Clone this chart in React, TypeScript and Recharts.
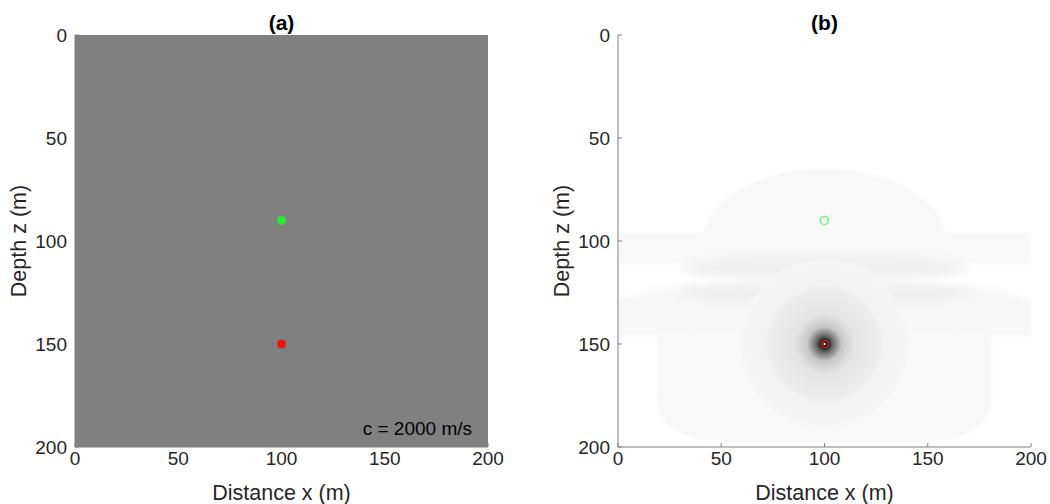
import React from "react";
import {
  ScatterChart,
  Scatter,
  XAxis,
  YAxis,
  ReferenceArea,
  Label,
} from "recharts";

// axis ticks (m)
const xTicks = [0, 50, 100, 150, 200];
const zTicks = [0, 50, 100, 150, 200];

// receiver and source positions (m)
const receiver = [{ x: 100, z: 90 }];
const source = [{ x: 100, z: 150 }];

// homogeneous velocity model (m/s)
const modelVelocity = 2000;

// faint structures of the sensitivity kernel, extents in metres
const kernelPatches = [
  { form: "rect", x1: 0, x2: 200, z1: 96, z2: 111 },
  { form: "dome", x1: 41, x2: 159, z1: 65, z2: 100 },
  { form: "ellipse", x1: 30, x2: 170, z1: 106, z2: 120 },
  { form: "rect", x1: 0, x2: 200, z1: 128, z2: 146 },
  { form: "ellipse", x1: 4, x2: 196, z1: 119, z2: 140 },
  { form: "ellipse", x1: 28, x2: 172, z1: 120, z2: 131 },
  { form: "bowl", x1: 19, x2: 181, z1: 144, z2: 198 },
];
const kernelTones = [
  "#f8f8f8",
  "#f8f8f8",
  "#f0f0f0",
  "#f7f7f7",
  "#f7f7f7",
  "#eeeeee",
  "#f8f8f8",
];

// halo around the source: radius (m) and grey ramp
const haloRadius = 42;
const haloStops = [
  { at: 0, c: "#000000", o: 1 },
  { at: 0.04, c: "#1c1c1c", o: 1 },
  { at: 0.1, c: "#6e6e6e", o: 1 },
  { at: 0.2, c: "#c8c8c8", o: 1 },
  { at: 0.34, c: "#e3e3e3", o: 1 },
  { at: 0.64, c: "#ededed", o: 1 },
  { at: 0.67, c: "#f2f2f2", o: 1 },
  { at: 0.94, c: "#f5f5f5", o: 1 },
  { at: 1, c: "#f7f7f7", o: 0 },
];

const FONT = '"Liberation Sans", Arial, Helvetica, sans-serif';
const TEXT = "#262626";
const AXIS = "#808080";
const PLOT_TOP = 35;
const PLOT_BOTTOM = 447;
const PLOT_LEFT = 75;

const XTick = (props: any) => {
  const { x, payload } = props;
  return (
    <g>
      <line x1={x} x2={x} y1={PLOT_BOTTOM} y2={PLOT_BOTTOM - 4} stroke={AXIS} />
      <text
        x={x}
        y={PLOT_BOTTOM + 18}
        textAnchor="middle"
        fill={TEXT}
        fontSize={19}
        fontFamily={FONT}
      >
        {payload.value}
      </text>
    </g>
  );
};

const YTick = (props: any) => {
  const { y, payload } = props;
  return (
    <g>
      <line x1={PLOT_LEFT} x2={PLOT_LEFT + 4} y1={y} y2={y} stroke={AXIS} />
      <text
        x={PLOT_LEFT - 8}
        y={y}
        dy="0.36em"
        textAnchor="end"
        fill={TEXT}
        fontSize={19}
        fontFamily={FONT}
      >
        {payload.value}
      </text>
    </g>
  );
};

const patchShape = (form: string, tone: string) => (p: any) => {
  const { x, y, width: w, height: h } = p;
  if (form === "ellipse") {
    return (
      <ellipse
        cx={x + w / 2}
        cy={y + h / 2}
        rx={w / 2}
        ry={h / 2}
        fill={tone}
        filter="url(#soft)"
      />
    );
  }
  if (form === "dome") {
    const d = `M${x},${y + h} A${w / 2},${h} 0 0 1 ${x + w},${y + h} Z`;
    return <path d={d} fill={tone} filter="url(#edge)" />;
  }
  if (form === "bowl") {
    const d = `M${x},${y} L${x + w},${y} L${x + w},${y + h * 0.6} Q${x + w},${y + h} ${x + w * 0.75},${y + h} L${x + w * 0.25},${y + h} Q${x},${y + h} ${x},${y + h * 0.6} Z`;
    return <path d={d} fill={tone} filter="url(#edge)" />;
  }
  return <rect x={x} y={y} width={w} height={h} fill={tone} filter="url(#edge)" />;
};

const haloShape = (p: any) => {
  const { x, y, width: w, height: h } = p;
  return (
    <g>
      <defs>
        <radialGradient id="halo">
          {haloStops.map((s) => (
            <stop key={s.at} offset={s.at} stopColor={s.c} stopOpacity={s.o} />
          ))}
        </radialGradient>
      </defs>
      <ellipse cx={x + w / 2} cy={y + h / 2} rx={w / 2} ry={h / 2} fill="url(#halo)" />
    </g>
  );
};

const FilterDefs = () => (
  <defs>
    <filter id="soft" x="-20%" y="-80%" width="140%" height="260%">
      <feGaussianBlur stdDeviation="5" />
    </filter>
    <filter id="edge" x="-5%" y="-10%" width="110%" height="120%">
      <feGaussianBlur stdDeviation="1.5" />
    </filter>
  </defs>
);

const dot = (fill: string) => (p: any) => (
  <circle cx={p.cx} cy={p.cy} r={4.5} fill={fill} />
);

const ring = (p: any) => (
  <circle cx={p.cx} cy={p.cy} r={4} fill="none" stroke="#5dfb5d" strokeWidth={1.3} />
);

const sourceMark = (p: any) => (
  <g>
    <circle cx={p.cx} cy={p.cy} r={3.3} fill="none" stroke="#e01515" strokeWidth={1.4} />
    <circle cx={p.cx} cy={p.cy} r={1.2} fill="#ffffff" />
  </g>
);

function Panel({
  title,
  left,
  width,
  children,
}: {
  title: string;
  left: number;
  width: number;
  children: React.ReactNode;
}) {
  return (
    <div style={{ position: "absolute", left, top: 0, width, height: 504 }}>
      <div
        style={{
          position: "absolute",
          left: 75,
          width: 413,
          top: 11,
          textAlign: "center",
          fontFamily: FONT,
          fontWeight: "bold",
          fontSize: 21,
          lineHeight: "24px",
          color: "#000",
        }}
      >
        {title}
      </div>
      <ScatterChart
        width={width}
        height={504}
        margin={{ top: PLOT_TOP, right: width - 75 - 413, left: 0, bottom: 0 }}
      >
        <FilterDefs />
        <XAxis
          type="number"
          dataKey="x"
          domain={[0, 200]}
          ticks={xTicks}
          allowDataOverflow
          height={57}
          tickSize={0}
          tick={<XTick />}
          axisLine={{ stroke: AXIS }}
        >
          <Label
            value="Distance x (m)"
            position="insideBottom"
            offset={4}
            style={{ fontSize: 21.5, fontFamily: FONT, fill: TEXT }}
          />
        </XAxis>
        <YAxis
          type="number"
          dataKey="z"
          domain={[0, 200]}
          ticks={zTicks}
          reversed
          allowDataOverflow
          width={75}
          tickSize={0}
          tick={<YTick />}
          axisLine={{ stroke: AXIS }}
        >
          <Label
            value="Depth z (m)"
            angle={-90}
            position="insideLeft"
            offset={18}
            style={{ fontSize: 21.5, fontFamily: FONT, fill: TEXT, textAnchor: "middle" }}
          />
        </YAxis>
        {children}
      </ScatterChart>
    </div>
  );
}

export default function App() {
  return (
    <div
      style={{
        position: "absolute",
        left: 0,
        top: 0,
        width: 1050,
        height: 504,
        overflow: "hidden",
        background: "#ffffff",
      }}
    >
      <Panel title="(a)" left={0} width={520}>
        <ReferenceArea
          x1={0}
          x2={200}
          y1={0}
          y2={200}
          fill="#808080"
          fillOpacity={1}
          stroke="none"
        />
        <Scatter data={receiver} fill="#2bea2b" shape={dot("#2bea2b")} isAnimationActive={false} />
        <Scatter data={source} fill="#f01414" shape={dot("#f01414")} isAnimationActive={false} />
      </Panel>
      <div
        style={{
          position: "absolute",
          left: 300,
          width: 172,
          top: 418,
          textAlign: "right",
          fontFamily: FONT,
          fontSize: 19,
          lineHeight: "22px",
          color: "#000",
        }}
      >
        {`c = ${modelVelocity} m/s`}
      </div>
      <Panel title="(b)" left={543} width={507}>
        {kernelPatches.map((k, i) => (
          <ReferenceArea
            key={i}
            x1={k.x1}
            x2={k.x2}
            y1={k.z1}
            y2={k.z2}
            ifOverflow="visible"
            shape={patchShape(k.form, kernelTones[i])}
          />
        ))}
        <ReferenceArea
          x1={source[0].x - haloRadius}
          x2={source[0].x + haloRadius}
          y1={source[0].z - haloRadius}
          y2={source[0].z + haloRadius}
          shape={haloShape}
        />
        <Scatter data={receiver} fill="#5dfb5d" shape={ring} isAnimationActive={false} />
        <Scatter data={source} fill="#e01515" shape={sourceMark} isAnimationActive={false} />
      </Panel>
    </div>
  );
}
